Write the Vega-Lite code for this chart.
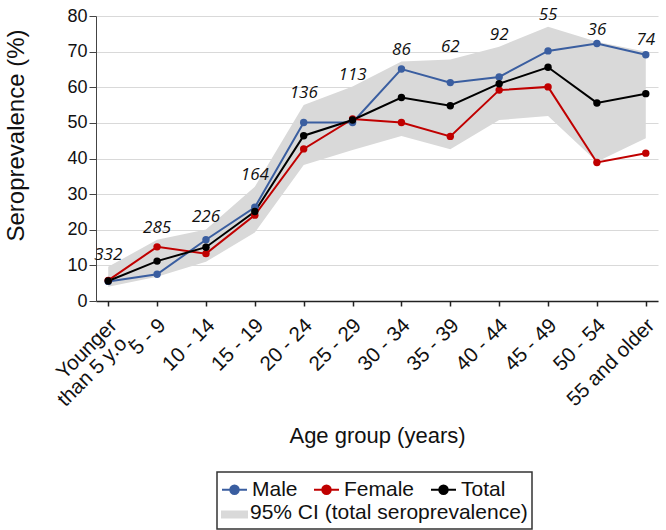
{
  "$schema": "https://vega.github.io/schema/vega-lite/v6.json",
  "width": 562,
  "height": 285,
  "autosize": {"type": "none"},
  "padding": {"left": 96, "top": 16, "right": 8, "bottom": 229},
  "background": "white",
  "config": {
    "view": {"stroke": null},
    "font": "Liberation Sans",
    "axisY": {
      "grid": true,
      "gridColor": "#d9d9d9",
      "gridWidth": 1.2,
      "domainColor": "#444444",
      "tickColor": "#444444",
      "tickSize": 7,
      "labelOverlap": false,
      "labelFontSize": 18,
      "labelColor": "#111111",
      "labelPadding": 2,
      "titleFontSize": 24,
      "titleFontWeight": "normal",
      "titleColor": "#111111",
      "titleX": -80,
      "titleY": 119,
      "titleAngle": -90,
      "titleAlign": "center",
      "titleBaseline": "middle"
    },
    "legend": {
      "labelFont": "Liberation Sans",
      "labelFontSize": 21,
      "labelColor": "#111111",
      "labelLimit": 400,
      "symbolSize": 625,
      "symbolStrokeWidth": 2,
      "labelOffset": 4,
      "columnPadding": 12,
      "rowPadding": 1,
      "padding": 4,
      "strokeColor": "#333333"
    }
  },
  "datasets": {
    "series": [
      {"age": "Younger than 5 y.o.", "series": "Male", "value": 5.5},
      {"age": "5 - 9", "series": "Male", "value": 7.5},
      {"age": "10 - 14", "series": "Male", "value": 17.2},
      {"age": "15 - 19", "series": "Male", "value": 26.3},
      {"age": "20 - 24", "series": "Male", "value": 50.1},
      {"age": "25 - 29", "series": "Male", "value": 50.1},
      {"age": "30 - 34", "series": "Male", "value": 65.1},
      {"age": "35 - 39", "series": "Male", "value": 61.3},
      {"age": "40 - 44", "series": "Male", "value": 62.9},
      {"age": "45 - 49", "series": "Male", "value": 70.2},
      {"age": "50 - 54", "series": "Male", "value": 72.3},
      {"age": "55 and older", "series": "Male", "value": 69.1},
      {"age": "Younger than 5 y.o.", "series": "Female", "value": 5.8},
      {"age": "5 - 9", "series": "Female", "value": 15.2},
      {"age": "10 - 14", "series": "Female", "value": 13.3},
      {"age": "15 - 19", "series": "Female", "value": 24.1},
      {"age": "20 - 24", "series": "Female", "value": 42.7},
      {"age": "25 - 29", "series": "Female", "value": 51.1},
      {"age": "30 - 34", "series": "Female", "value": 50.1},
      {"age": "35 - 39", "series": "Female", "value": 46.2},
      {"age": "40 - 44", "series": "Female", "value": 59.2},
      {"age": "45 - 49", "series": "Female", "value": 60.1},
      {"age": "50 - 54", "series": "Female", "value": 38.9},
      {"age": "55 and older", "series": "Female", "value": 41.5},
      {"age": "Younger than 5 y.o.", "series": "Total", "value": 5.6},
      {"age": "5 - 9", "series": "Total", "value": 11.2},
      {"age": "10 - 14", "series": "Total", "value": 15.1},
      {"age": "15 - 19", "series": "Total", "value": 25.1},
      {"age": "20 - 24", "series": "Total", "value": 46.4},
      {"age": "25 - 29", "series": "Total", "value": 50.8},
      {"age": "30 - 34", "series": "Total", "value": 57.1},
      {"age": "35 - 39", "series": "Total", "value": 54.8},
      {"age": "40 - 44", "series": "Total", "value": 61.0},
      {"age": "45 - 49", "series": "Total", "value": 65.6},
      {"age": "50 - 54", "series": "Total", "value": 55.6},
      {"age": "55 and older", "series": "Total", "value": 58.2}
    ],
    "ci": [
      {"age": "Younger than 5 y.o.", "lower": 4.0, "upper": 9.6, "n": 332},
      {"age": "5 - 9", "lower": 6.8, "upper": 17.2, "n": 285},
      {"age": "10 - 14", "lower": 11.0, "upper": 20.1, "n": 226},
      {"age": "15 - 19", "lower": 19.2, "upper": 32.1, "n": 164},
      {"age": "20 - 24", "lower": 38.2, "upper": 55.0, "n": 136},
      {"age": "25 - 29", "lower": 42.4, "upper": 60.2, "n": 113},
      {"age": "30 - 34", "lower": 46.3, "upper": 67.2, "n": 86},
      {"age": "35 - 39", "lower": 42.6, "upper": 67.8, "n": 62},
      {"age": "40 - 44", "lower": 50.8, "upper": 71.4, "n": 92},
      {"age": "45 - 49", "lower": 51.9, "upper": 77.0, "n": 55},
      {"age": "50 - 54", "lower": 39.1, "upper": 72.8, "n": 36},
      {"age": "55 and older", "lower": 45.7, "upper": 70.0, "n": 74}
    ]
  },
  "encoding": {
    "x": {
      "field": "age",
      "type": "ordinal",
      "sort": ["Younger than 5 y.o.", "5 - 9", "10 - 14", "15 - 19", "20 - 24", "25 - 29", "30 - 34", "35 - 39", "40 - 44", "45 - 49", "50 - 54", "55 and older"],
      "scale": {"type": "point", "padding": 0.25},
      "title": "Age group (years)",
      "axis": {
        "labelAngle": -45,
        "labelAlign": "right",
        "labelBaseline": "middle",
        "labelFontSize": 20.5,
        "labelColor": "#111111",
        "labelExpr": "datum.value === 'Younger than 5 y.o.' ? ['Younger', 'than 5 y.o.'] : datum.value",
        "labelPadding": 16,
        "labelOffset": 5,
        "labelLineHeight": 20,
        "tickSize": 5,
        "tickWidth": 1.5,
        "tickColor": "#222222",
        "domainColor": "#222222",
        "domainWidth": 1.5,
        "grid": false,
        "titleFontSize": 22,
        "titleFontWeight": "normal",
        "titleColor": "#111111",
        "titleY": 134,
        "titleBaseline": "middle"
      }
    }
  },
  "layer": [
    {
      "data": {"name": "ci"},
      "mark": {"type": "area", "opacity": 1},
      "encoding": {
        "y": {
          "field": "lower",
          "type": "quantitative",
          "scale": {"domain": [0, 80], "nice": false},
          "title": "Seroprevalence (%)",
          "axis": {"values": [0, 10, 20, 30, 40, 50, 60, 70, 80], "labelOverlap": false}
        },
        "y2": {"field": "upper"},
        "color": {
          "datum": "95% CI (total seroprevalence)",
          "type": "nominal",
          "scale": {
            "domain": ["Male", "Female", "Total", "95% CI (total seroprevalence)"],
            "range": ["#3a5ea0", "#c00000", "#000000", "#d9d9d9"]
          }
        }
      }
    },
    {
      "data": {"name": "series"},
      "mark": {"type": "line", "strokeWidth": 2},
      "encoding": {
        "y": {
          "field": "value",
          "type": "quantitative",
          "title": "Seroprevalence (%)",
          "axis": {"values": [0, 10, 20, 30, 40, 50, 60, 70, 80], "labelOverlap": false}
        },
        "color": {
          "field": "series",
          "type": "nominal",
          "scale": {
            "domain": ["Male", "Female", "Total", "95% CI (total seroprevalence)"],
            "range": ["#3a5ea0", "#c00000", "#000000", "#d9d9d9"]
          },
          "legend": {
            "title": "95% CI (total seroprevalence)",
            "titleOrient": "bottom",
            "titleAnchor": "start",
            "titleAlign": "left",
            "titlePadding": -23,
            "titleFont": "Liberation Sans",
            "titleFontSize": 21,
            "titleFontWeight": "normal",
            "titleColor": "#111111",
            "titleLimit": 400,
            "orient": "none",
            "legendX": 121,
            "legendY": 456,
            "direction": "horizontal",
            "columns": 3,
            "encode": {
              "legend": {"update": {"stroke": {"value": "#333333"}, "strokeWidth": {"value": 1.5}}},
              "title": {"update": {"dx": {"value": 29}}},
              "labels": {"update": {"text": {"signal": "datum.value === '95% CI (total seroprevalence)' ? '' : datum.label"}}},
              "symbols": {
                "update": {
                  "shape": {"signal": "datum.value === '95% CI (total seroprevalence)' ? 'M-1,-0.24H1V0.24H-1Z' : 'M-1,0H1M-0.34,0A0.34,0.34 0 1,1 0.34,0A0.34,0.34 0 1,1 -0.34,0Z'"},
                  "fill": {"signal": "datum.value === 'Male' ? '#3a5ea0' : datum.value === 'Female' ? '#c00000' : datum.value === 'Total' ? '#000000' : '#a6a6a6'"},
                  "stroke": {"signal": "datum.value === 'Male' ? '#3a5ea0' : datum.value === 'Female' ? '#c00000' : datum.value === 'Total' ? '#000000' : '#a6a6a6'"},
                  "strokeWidth": {"value": 2},
                  "opacity": {"value": 1},
                  "fillOpacity": {"value": 1},
                  "strokeOpacity": {"value": 1}
                }
              }
            }
          }
        }
      }
    },
    {
      "data": {"name": "series"},
      "mark": {"type": "point", "filled": true, "size": 55, "opacity": 1},
      "encoding": {
        "y": {
          "field": "value",
          "type": "quantitative",
          "title": "Seroprevalence (%)",
          "axis": {"values": [0, 10, 20, 30, 40, 50, 60, 70, 80], "labelOverlap": false}
        },
        "color": {"field": "series", "type": "nominal"}
      }
    },
    {
      "data": {"name": "ci"},
      "mark": {"type": "text", "font": "Open Sans", "fontStyle": "italic", "fontSize": 17, "dy": -12, "color": "#111111", "baseline": "middle"},
      "encoding": {
        "y": {
          "field": "upper",
          "type": "quantitative",
          "title": "Seroprevalence (%)",
          "axis": {"values": [0, 10, 20, 30, 40, 50, 60, 70, 80], "labelOverlap": false}
        },
        "text": {"field": "n", "type": "quantitative"}
      }
    }
  ]
}
